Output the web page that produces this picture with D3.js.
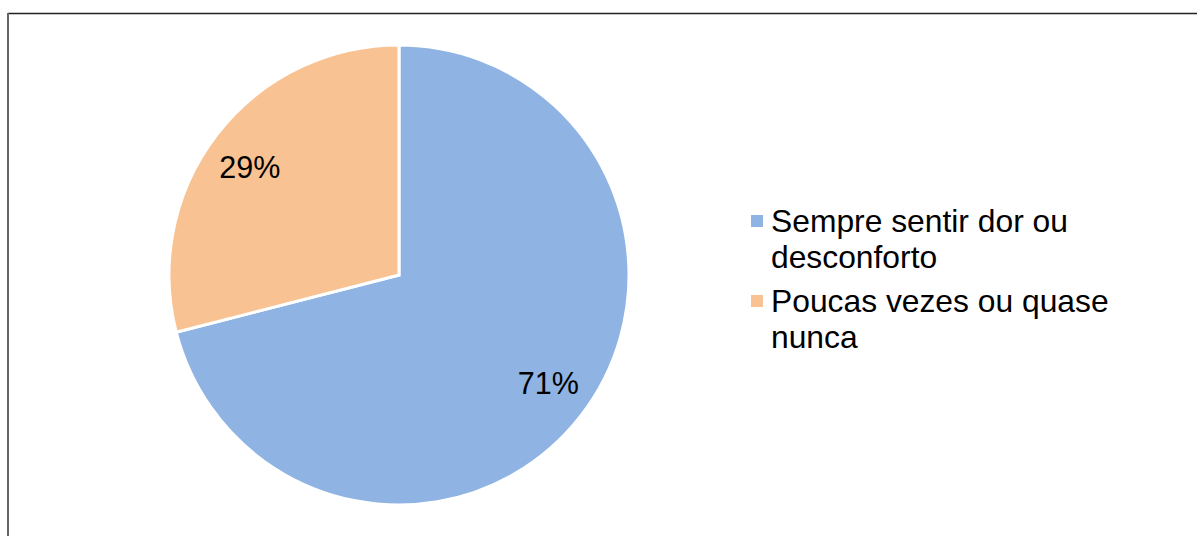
<!DOCTYPE html>
<html>
<head>
<meta charset="utf-8">
<script src="https://cdn.jsdelivr.net/npm/d3@7"></script>
<style>
  html, body { margin: 0; padding: 0; background: #fff; }
  #chart { width: 1197px; height: 536px; }
</style>
</head>
<body>
<div id="chart"></div>
<script>
var categories = ['Sempre sentir dor ou desconforto', 'Poucas vezes ou quase nunca'];
var legendLines = [['Sempre sentir dor ou', 'desconforto'], ['Poucas vezes ou quase', 'nunca']];
var values = [71, 29];
var colors = ['#8fb3e2', '#f9c292'];

(function() {
  var FONT = '"Liberation Sans", Arial, sans-serif';
  var w = 1197, h = 536;
  var cx = 399, cy = 275, radius = 230;

  var svg = d3.select('#chart').append('svg').attr('width', w).attr('height', h);

  // Frame (right and bottom edges fall outside the picture)
  svg.append('line').attr('x1', 8).attr('x2', w).attr('y1', 13.5).attr('y2', 13.5)
    .attr('stroke', '#222').attr('stroke-width', 1.3);
  svg.append('line').attr('x1', 8).attr('x2', 8).attr('y1', 13).attr('y2', h)
    .attr('stroke', '#666').attr('stroke-width', 2);

  var data = categories.map(function(c, i) { return { name: c, value: values[i], color: colors[i] }; });
  var pie = d3.pie().sort(null).value(function(d) { return d.value; });
  var arc = d3.arc().innerRadius(0).outerRadius(radius);

  var g = svg.append('g').attr('transform', 'translate(' + cx + ',' + cy + ')');
  var arcs = pie(data);

  g.selectAll('path').data(arcs).join('path')
    .attr('d', arc)
    .attr('fill', function(d) { return d.data.color; })
    .attr('stroke', '#fff').attr('stroke-width', 3).attr('stroke-linejoin', 'miter');

  // labels sit a touch counter-clockwise of the slice middle
  var lr = 184, shift = 2 * Math.PI / 180;
  g.selectAll('text.lbl').data(arcs).join('text').attr('class', 'lbl')
    .attr('transform', function(d) {
      var a = (d.startAngle + d.endAngle) / 2 - shift;
      return 'translate(' + (lr * Math.sin(a)) + ',' + (-lr * Math.cos(a) + 11) + ')';
    })
    .attr('text-anchor', 'middle').attr('font-family', FONT).attr('font-size', '30.5px').attr('fill', '#000')
    .text(function(d) { return d.data.value + '%'; });

  // Legend
  var lg = svg.append('g').attr('transform', 'translate(751,0)');
  legendLines.forEach(function(lines, i) {
    var top = 232 + i * 80;
    lg.append('rect').attr('x', 0).attr('y', top - 17).attr('width', 12).attr('height', 12).attr('fill', colors[i]);
    lines.forEach(function(t, j) {
      lg.append('text').attr('x', 20).attr('y', top + j * 36)
        .attr('font-family', FONT).attr('font-size', '31.8px').attr('fill', '#000').text(t);
    });
  });
})();
</script>
</body>
</html>
